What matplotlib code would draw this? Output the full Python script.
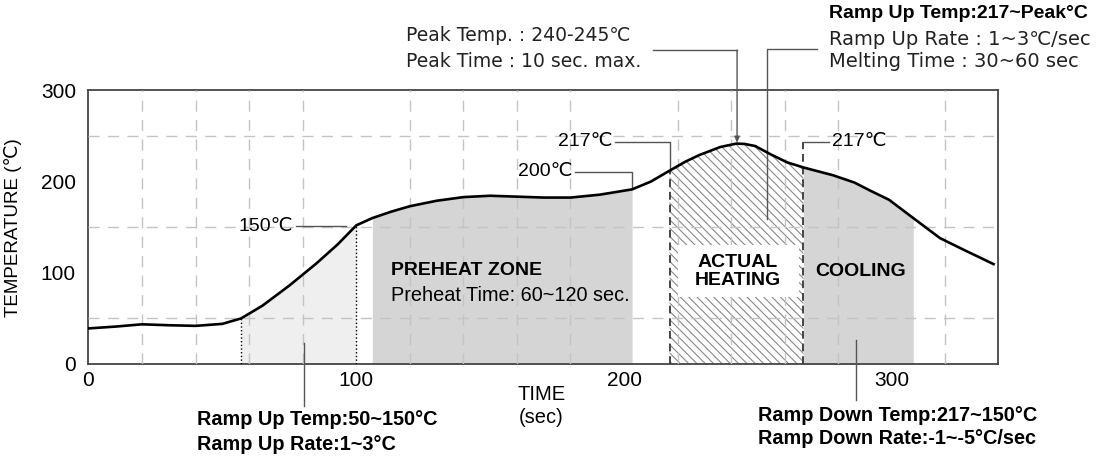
import numpy as np
import matplotlib
matplotlib.use('Agg')
import matplotlib.pyplot as plt
from matplotlib.patches import Rectangle

# reflow profile
time_s = np.array([0, 10, 20, 30, 40, 50, 57, 65, 75, 85, 93, 100, 106, 113, 120, 130,
                   140, 150, 160, 170, 180, 191, 203, 210, 217, 223, 228, 236, 242, 245,
                   249, 255, 261, 267, 278, 286, 292, 299, 308, 318, 327, 338])
temp_c = np.array([39, 41, 43.5, 42.5, 41.8, 44, 50, 64, 86, 110, 131, 152, 160, 167, 173, 179,
                   183, 184.5, 183.5, 182.5, 182.5, 185.7, 191.5, 200, 212, 222, 229, 238, 241.7, 241.3,
                   239, 229.5, 221, 215.5, 207, 199, 190, 180, 160, 138, 125, 109.5])

# zones: (start, end)
ramp_zone = (57, 100)
preheat_zone = (106, 203)
heating_zone = (217, 267)
cooling_zone = (267, 308)

x_ticks = [0, 100, 200, 300]
y_ticks = [0, 100, 200, 300]

SANS = ['Liberation Sans', 'DejaVu Sans']
ALT = ['DejaVu Sans']
plt.rcParams['font.family'] = SANS
plt.rcParams['hatch.linewidth'] = 0.8

fig = plt.figure(figsize=(11.06, 4.59), dpi=100)
ax = fig.add_axes([0.080, 0.207, 0.822, 0.596])
ax.set_xlim(0, 339.5)
ax.set_ylim(0, 300)


def zone_mask(z):
    return (time_s >= z[0]) & (time_s <= z[1])


ax.fill_between(time_s, 0, temp_c, where=zone_mask(ramp_zone), color='#efefef', lw=0, zorder=1)
ax.fill_between(time_s, 0, temp_c, where=zone_mask(preheat_zone), color='#d5d5d5', lw=0, zorder=1)
ax.fill_between(time_s, 0, temp_c, where=zone_mask(cooling_zone), color='#d5d5d5', lw=0, zorder=1)
ax.fill_between(time_s, 0, temp_c, where=zone_mask(heating_zone), facecolor='white',
                edgecolor='#888888', hatch='\\\\\\\\', lw=0, zorder=1)

# grid (drawn over the zones, faint)
ax.set_xticks(np.arange(0, 340, 20), minor=True)
ax.set_yticks(np.arange(0, 301, 50), minor=True)
ax.set_axisbelow(False)
ax.grid(True, which='minor', color='#c4c4c4', lw=1, linestyle=(0, (8, 6)))

ax.set_xticks(x_ticks)
ax.set_yticks(y_ticks)
ax.tick_params(which='both', length=0, labelsize=15)
ax.tick_params(axis='x', pad=5)
ax.tick_params(axis='y', pad=9)
for s in ax.spines.values():
    s.set_color('#444444')
    s.set_linewidth(1.3)

# curve
ax.plot(time_s, temp_c, color='black', lw=1.9, zorder=4)

# zone boundaries
i57 = list(time_s).index(ramp_zone[0])
i100 = list(time_s).index(ramp_zone[1])
ax.plot([ramp_zone[0]] * 2, [0, temp_c[i57]], color='black', lw=1, ls=':', zorder=3)
ax.plot([ramp_zone[1]] * 2, [0, temp_c[i100]], color='black', lw=1, ls=':', zorder=3)
i217 = list(time_s).index(heating_zone[0])
ax.plot([heating_zone[0]] * 2, [0, temp_c[i217]], color='#444444', lw=1.4, ls=(0, (4, 2.5)), zorder=3)
ax.plot([heating_zone[1]] * 2, [0, 243.5], color='#444444', lw=1.4, ls=(0, (4, 2.5)), zorder=3)

lead = dict(color='#555555', lw=1, zorder=3, clip_on=False)
# 150C
ax.plot([77.5, 96], [151, 151], **lead)
ax.text(76.5, 151, '150℃', ha='right', va='center', fontsize=14)
# 200C
ax.plot([181.5, 203, 203], [211, 211, 192], **lead)
ax.text(180.8, 211, '200℃', ha='right', va='center', fontsize=14)
# 217C left
ax.plot([196.5, 217, 217], [243.5, 243.5, temp_c[i217]], **lead)
ax.text(195.8, 243.5, '217℃', ha='right', va='center', fontsize=14)
# 217C right
ax.plot([267, 276.5], [243.5, 243.5], **lead)
ax.text(277.8, 243.5, '217℃', ha='left', va='center', fontsize=14)

# peak
ax.plot([210.7, 242.2], [344, 344], **lead)
ax.annotate('', xy=(242.2, 242.5), xytext=(242.2, 344.3), annotation_clip=False,
            arrowprops=dict(arrowstyle='-|>,head_length=0.35,head_width=0.15',
                            color='#555555', lw=1, shrinkA=0, shrinkB=0))
ax.text(118.7, 360.5, 'Peak Temp. : 240-245℃', ha='left', va='center', fontsize=13.5, family=ALT,
        color='#222222')
ax.text(118.7, 331.5, 'Peak Time : 10 sec. max.', ha='left', va='center', fontsize=13.5, family=ALT,
        color='#222222')

# ramp up to peak
ax.plot([272.2, 253.4, 253.4], [345, 345, 159], **lead)
ax.text(276.7, 384, 'Ramp Up Temp:217~Peak°C', ha='left', va='center', fontsize=14,
        fontweight='bold')
ax.text(276.7, 356, 'Ramp Up Rate : 1~3℃/sec', ha='left', va='center', fontsize=14, family=ALT,
        color='#222222')
ax.text(276.7, 332, 'Melting Time : 30~60 sec', ha='left', va='center', fontsize=14, family=ALT,
        color='#222222')

# zone labels
ax.text(113.1, 103, 'PREHEAT ZONE', ha='left', va='center', fontsize=14, fontweight='bold')
ax.text(113.1, 75.5, 'Preheat Time: 60~120 sec.', ha='left', va='center', fontsize=14.3)
ax.add_patch(Rectangle((220, 73), 45.5, 57, facecolor='white', edgecolor='none', zorder=2.6))
ax.text(242.5, 101.5, 'ACTUAL\nHEATING', ha='center', va='center', fontsize=14,
        fontweight='bold', linespacing=1.05, zorder=3)
ax.text(288.5, 101, 'COOLING', ha='center', va='center', fontsize=14, fontweight='bold', zorder=3)

# bottom annotations
ax.plot([80.4, 80.4], [23, -46], **lead)
ax.text(40.4, -60.5, 'Ramp Up Temp:50~150°C', ha='left', va='center', fontsize=14.3,
        fontweight='bold')
ax.text(40.4, -88.5, 'Ramp Up Rate:1~3°C', ha='left', va='center', fontsize=14.3,
        fontweight='bold')
ax.text(169.1, -34, 'TIME', ha='center', va='center', fontsize=14.5)
ax.text(169.1, -59, '(sec)', ha='center', va='center', fontsize=14.5)
ax.plot([286.6, 286.6], [26, -39.5], **lead)
ax.text(250, -57, 'Ramp Down Temp:217~150°C', ha='left', va='center', fontsize=14.3,
        fontweight='bold')
ax.text(250, -82, 'Ramp Down Rate:-1~-5°C/sec', ha='left', va='center', fontsize=14.3,
        fontweight='bold')

ax.set_ylabel('TEMPERATURE (℃)', fontsize=13.5)
ax.yaxis.set_label_coords(-0.073, 0.5)

fig.savefig('out.png', dpi=100)
